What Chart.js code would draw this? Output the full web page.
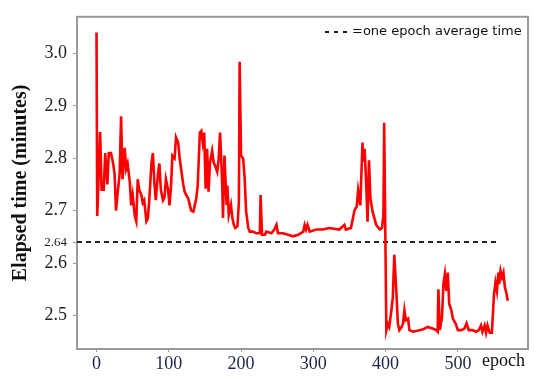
<!DOCTYPE html>
<html>
<head>
<meta charset="utf-8">
<script src="https://cdn.jsdelivr.net/npm/chart.js@4"></script>
<style>
  body { margin: 0; background: #fff; }
  #chart { display: block; }
</style>
</head>
<body>
<canvas id="chart" width="534" height="376"></canvas>
<script>
// epochs and elapsed time (minutes)
const epochs = [
  0, 1, 5, 7, 10, 12, 15, 17, 20, 23, 25, 27, 29, 32, 34, 36, 39, 41, 43, 46,
  48, 50, 53, 55, 57, 59, 62, 64, 66, 69, 71, 73, 76, 78, 80, 82, 85, 87, 89, 92,
  94, 96, 99, 101, 103, 105, 108, 110, 113, 115, 117, 120, 122, 124, 127, 129, 131, 134, 136, 138,
  140, 143, 145, 147, 149, 151, 153, 155, 157, 160, 162, 164, 167, 169, 171, 174, 175, 177, 180, 181,
  183, 186, 188, 190, 192, 195, 197, 198, 200, 203, 205, 207, 210, 212, 216, 221, 226, 227, 229, 233,
  235, 242, 246, 249, 251, 258, 265, 272, 279, 286, 288, 290, 292, 295, 304, 313, 322, 336, 343, 345,
  352, 357, 360, 362, 365, 368, 369, 371, 373, 375, 377, 379, 382, 387, 392, 395, 397, 398, 401, 403,
  405, 408, 410, 412, 415, 417, 419, 422, 424, 426, 428, 431, 433, 438, 444, 451, 458, 465, 470, 472,
  473, 475, 478, 480, 482, 484, 486, 488, 491, 493, 497, 500, 505, 509, 512, 515, 520, 525, 529, 532,
  534, 537, 539, 541, 544, 547, 550, 552, 554, 556, 557, 559, 561, 563, 565, 567, 569
];
const times = [
  3.04, 2.69, 2.85, 2.74, 2.74, 2.81, 2.75, 2.81, 2.81, 2.79, 2.77, 2.70, 2.73, 2.77, 2.88, 2.76, 2.82, 2.78, 2.79, 2.755,
  2.71, 2.73, 2.69, 2.68, 2.76, 2.74, 2.73, 2.715, 2.72, 2.68, 2.685, 2.72, 2.79, 2.81, 2.755, 2.72, 2.77, 2.79, 2.74, 2.72,
  2.725, 2.76, 2.74, 2.71, 2.745, 2.805, 2.80, 2.84, 2.83, 2.80, 2.78, 2.75, 2.736, 2.73, 2.723, 2.711, 2.70, 2.698, 2.711, 2.723,
  2.748, 2.849, 2.852, 2.83, 2.849, 2.742, 2.818, 2.736, 2.792, 2.814, 2.792, 2.786, 2.774, 2.799, 2.849, 2.748, 2.686, 2.805, 2.711, 2.748,
  2.692, 2.711, 2.686, 2.673, 2.667, 2.670, 2.717, 2.984, 2.805, 2.799, 2.761, 2.698, 2.667, 2.660, 2.660, 2.657, 2.657, 2.73, 2.654, 2.654,
  2.660, 2.657, 2.664, 2.673, 2.657, 2.657, 2.654, 2.651, 2.654, 2.660, 2.673, 2.664, 2.673, 2.660, 2.664, 2.664, 2.667, 2.664, 2.673, 2.664,
  2.667, 2.701, 2.708, 2.739, 2.71, 2.830, 2.793, 2.818, 2.755, 2.679, 2.796, 2.723, 2.698, 2.673, 2.664, 2.667, 2.692, 2.868, 2.472, 2.484,
  2.478, 2.510, 2.535, 2.616, 2.541, 2.484, 2.472, 2.478, 2.484, 2.510, 2.491, 2.494, 2.472, 2.469, 2.471, 2.473, 2.478, 2.475, 2.472, 2.469,
  2.550, 2.472, 2.497, 2.560, 2.579, 2.547, 2.582, 2.522, 2.510, 2.494, 2.484, 2.472, 2.472, 2.475, 2.485, 2.472, 2.472, 2.469, 2.472, 2.481,
  2.469, 2.481, 2.467, 2.481, 2.467, 2.467, 2.541, 2.563, 2.547, 2.582, 2.560, 2.585, 2.573, 2.582, 2.554, 2.544, 2.528
];
const avgTime = 2.64;
const avgEpochs = [-27, 558];
const yTicks = [2.5, 2.6, 2.64, 2.7, 2.8, 2.9, 3.0];
const xTicks = [0, 100, 200, 300, 400, 500];

const serif = '"Liberation Serif", "Times New Roman", serif';

const framePlugin = {
  id: 'frame',
  beforeDatasetsDraw(chart) {
    const {ctx, chartArea: a} = chart;
    ctx.save();
    ctx.strokeStyle = '#9a9a9a';
    ctx.lineWidth = 2;
    ctx.strokeRect(a.left, a.top, a.right - a.left, a.bottom - a.top);
    ctx.restore();
  },
  afterDraw(chart) {
    const {ctx} = chart;
    ctx.save();
    // legend note, top right
    ctx.strokeStyle = '#222';
    ctx.lineWidth = 2;
    ctx.setLineDash([4, 5]);
    ctx.beginPath();
    ctx.moveTo(325, 32);
    ctx.lineTo(348, 32);
    ctx.stroke();
    ctx.setLineDash([]);
    ctx.fillStyle = '#111';
    ctx.font = '13px "DejaVu Sans", Verdana, sans-serif';
    ctx.textBaseline = 'middle';
    ctx.textAlign = 'left';
    ctx.fillText('=one epoch average time', 352, 32);
    // x axis name next to the ticks
    ctx.font = '18px ' + serif;
    ctx.fillStyle = '#111';
    ctx.fillText('epoch', 482, 361);
    ctx.restore();
  }
};

const chart = new Chart(document.getElementById('chart'), {
  type: 'line',
  data: {
    datasets: [{
      data: epochs.map((e, i) => ({x: e, y: times[i]})),
      borderColor: '#ff0000',
      borderWidth: 2.6,
      pointRadius: 0,
      tension: 0
    }, {
      data: avgEpochs.map(e => ({x: e, y: avgTime})),
      borderColor: '#222',
      borderWidth: 2,
      borderDash: [5, 4],
      pointRadius: 0
    }]
  },
  options: {
    responsive: false,
    animation: false,
    layout: {padding: {top: 13, right: 6, left: 0, bottom: 0}},
    plugins: {legend: {display: false}, tooltip: {enabled: false}},
    scales: {
      x: {
        type: 'linear',
        min: -27,
        max: 597,
        afterBuildTicks: s => { s.ticks = xTicks.map(v => ({value: v})); },
        afterFit: s => { s.height = 27; },
        border: {display: true, color: '#9a9a9a', width: 2},
        grid: {drawOnChartArea: false, drawTicks: true, tickLength: 3, color: '#9a9a9a'},
        ticks: {
          font: {family: serif, size: 18},
          color: '#1c2348',
          padding: 1,
          maxRotation: 0
        }
      },
      y: {
        min: 2.436,
        max: 3.070,
        afterBuildTicks: s => { s.ticks = yTicks.map(v => ({value: v})); },
        afterFit: s => { s.width = 77; },
        border: {display: true, color: '#9a9a9a', width: 2},
        grid: {drawOnChartArea: false, drawTicks: true, tickLength: 4, color: '#9a9a9a'},
        ticks: {
          callback: v => v === avgTime ? '2.64' : v.toFixed(1),
          font: c => ({family: serif, size: c.tick && c.tick.value === avgTime ? 13 : 18}),
          color: '#222',
          padding: 6
        },
        title: {
          display: true,
          text: 'Elapsed time (minutes)',
          font: {family: serif, size: 20, weight: 'bold'},
          color: '#111',
          padding: {top: 9, bottom: 0}
        }
      }
    }
  },
  plugins: [framePlugin]
});
</script>
</body>
</html>
